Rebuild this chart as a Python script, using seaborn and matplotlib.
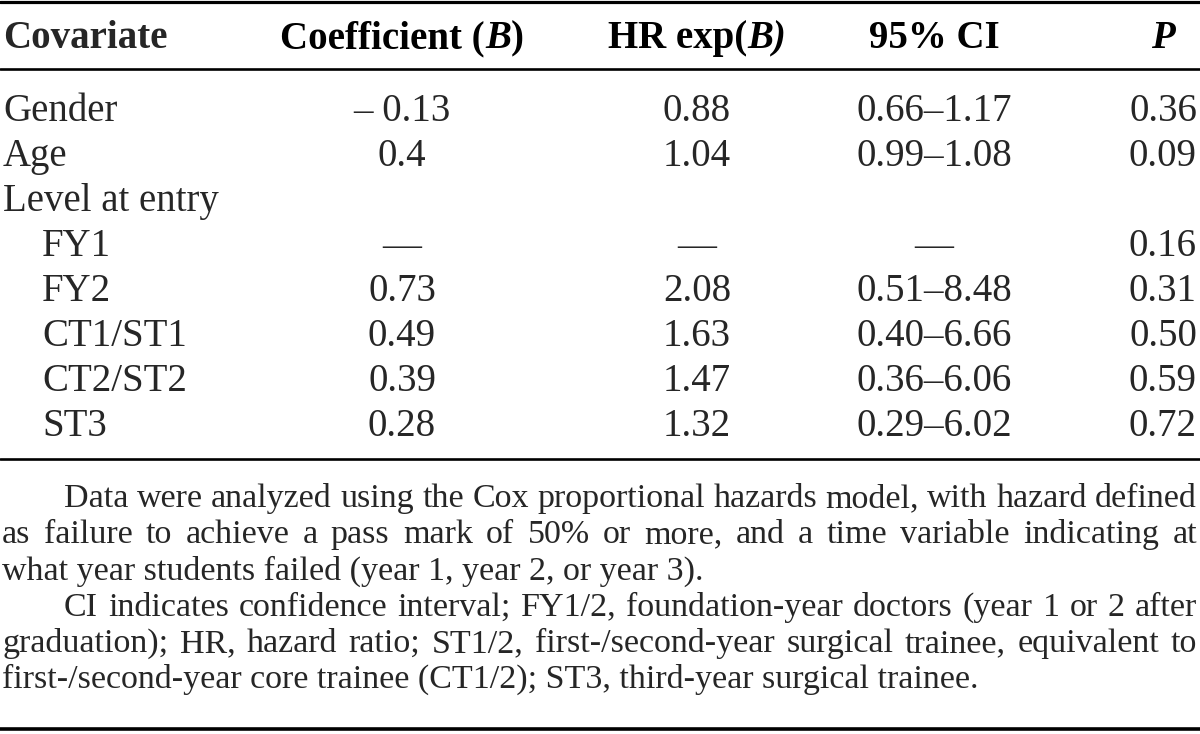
import matplotlib
matplotlib.use("Agg")
import matplotlib.pyplot as plt
import seaborn as sns

# table contents
covariates = ["Gender", "Age", "Level at entry", "FY1", "FY2", "CT1/ST1", "CT2/ST2", "ST3"]
sub_rows = [False, False, False, True, True, True, True, True]
coef = ["\u2013 0.13", "0.4", "", "\u2014", "0.73", "0.49", "0.39", "0.28"]
hr = ["0.88", "1.04", "", "\u2014", "2.08", "1.63", "1.47", "1.32"]
ci = ["0.66\u20131.17", "0.99\u20131.08", "", "\u2014", "0.51\u20138.48",
      "0.40\u20136.66", "0.36\u20136.06", "0.29\u20136.02"]
pvals = ["0.36", "0.09", "", "0.16", "0.31", "0.50", "0.59", "0.72"]

notes = [
    ("Data were analyzed using the Cox proportional hazards model, with hazard defined", True, True),
    ("as failure to achieve a pass mark of 50% or more, and a time variable indicating at", False, True),
    ("what year students failed (year 1, year 2, or year 3).", False, False),
    ("CI indicates confidence interval; FY1/2, foundation-year doctors (year 1 or 2 after", True, True),
    ("graduation); HR, hazard ratio; ST1/2, first-/second-year surgical trainee, equivalent to", False, True),
    ("first-/second-year core trainee (CT1/2); ST3, third-year surgical trainee.", False, False),
]

sns.set_theme(style="white")
plt.rcParams["font.family"] = ["Liberation Serif", "DejaVu Serif"]

W, H = 1200, 734
fig = plt.figure(figsize=(12, 7.34), dpi=100)
ax = fig.add_axes([0, 0, 1, 1])
ax.set_xlim(0, W)
ax.set_ylim(H, 0)
ax.axis("off")
renderer = fig.canvas.get_renderer()

FS = 28      # table text
FN = 24.5    # footnote text


def width(s, **kw):
    t = ax.text(0, 0, s, **kw)
    w = t.get_window_extent(renderer).width
    t.remove()
    return w


def rich(pieces, x, y, ha="center"):
    # pieces: list of (text, style), bold header with italic bits
    ws = [width(s, fontsize=FS, fontweight="bold", fontstyle=st) for s, st in pieces]
    total = sum(ws)
    x0 = x - total / 2 if ha == "center" else (x - total if ha == "right" else x)
    for (s, st), w in zip(pieces, ws):
        ax.text(x0, y, s, fontsize=FS, fontweight="bold", fontstyle=st,
                ha="left", va="baseline", color="black")
        x0 += w


# rules
ax.axhline(1.5, color="black", lw=2.3)
ax.axhline(69, color="black", lw=1.9)
ax.axhline(459, color="black", lw=1.9)
ax.axhline(729, color="black", lw=2.6)

# header
col_x = {"coef": 402, "hr": 697, "ci": 934, "p": 1163}
hy = 48
ax.text(3, hy, "Covariate", fontsize=FS, fontweight="bold", ha="left", va="baseline")
rich([("Coefficient (", "normal"), ("B", "italic"), (")", "normal")], col_x["coef"], hy)
rich([("HR exp(", "normal"), ("B)", "italic")], col_x["hr"], hy)
rich([("95% CI", "normal")], col_x["ci"], hy)
rich([("P", "italic")], col_x["p"], hy)

# body rows
row0, dy = 121, 45
for i, name in enumerate(covariates):
    y = row0 + i * dy
    ax.text(42 if sub_rows[i] else 3, y, name, fontsize=FS, ha="left", va="baseline")
    ax.text(col_x["coef"], y, coef[i], fontsize=FS, ha="center", va="baseline")
    ax.text(col_x["hr"], y, hr[i], fontsize=FS, ha="center", va="baseline")
    ax.text(col_x["ci"], y, ci[i], fontsize=FS, ha="center", va="baseline")
    ax.text(col_x["p"], y, pvals[i], fontsize=FS, ha="center", va="baseline")

# footnotes, justified word by word
fy0, fdy = 507, 36.2
left, right, indent = 2, 1197, 62
for j, (line, first, justify) in enumerate(notes):
    y = fy0 + j * fdy
    x0 = left + (indent if first else 0)
    if not justify:
        ax.text(x0, y, line, fontsize=FN, ha="left", va="baseline")
        continue
    words = line.split(" ")
    ws = [width(w, fontsize=FN) for w in words]
    gap = (right - x0 - sum(ws)) / (len(words) - 1)
    x = x0
    for w, wd in zip(words, ws):
        ax.text(x, y, w, fontsize=FN, ha="left", va="baseline")
        x += wd + gap

fig.savefig("out.png", dpi=100, facecolor="white")
